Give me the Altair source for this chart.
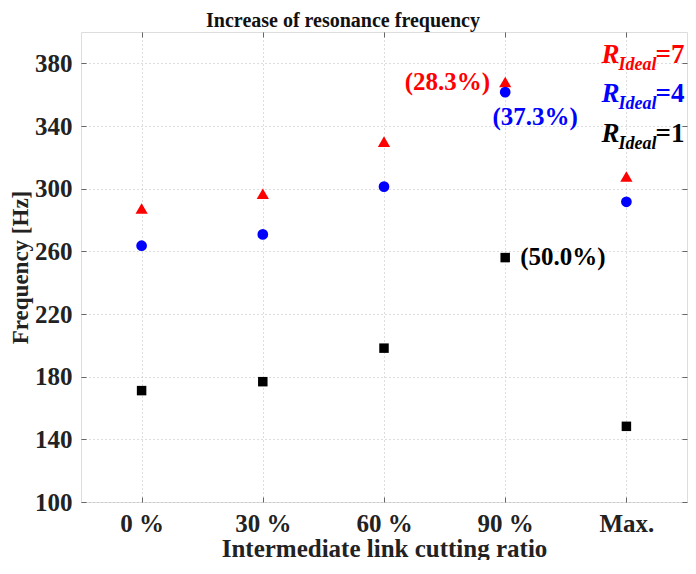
import altair as alt
import pandas as pd

categories = ["0 %", "30 %", "60 %", "90 %", "Max."]
r7 = [287.3, 296.8, 330.0, 368.1, 307.8]
r4 = [263.6, 270.8, 301.3, 361.6, 291.6]
r1 = [171.1, 176.8, 198.2, 256.0, 148.3]
y_ticks = [100, 140, 180, 220, 260, 300, 340, 380]
series_names = ["7", "4", "1"]
series_colors = ["#ff0000", "#0000ff", "#000000"]
series_shapes = ["triangle-up", "circle", "square"]
series_sizes = [150, 115, 90]

FONT = "Liberation Serif"
FRAME = "#666666"
TXT = "#222222"

rows = []
for name, vals in zip(series_names, [r7, r4, r1]):
    for c, v in zip(categories, vals):
        rows.append({"cat": c, "freq": v, "series": name})
df = pd.DataFrame(rows)

xscale = alt.Scale(type="point", domain=categories, padding=0.5)
yscale = alt.Scale(domain=[100, 400], nice=False, zero=False)

main_x = alt.X("cat:N", scale=xscale, sort=categories,
               axis=alt.Axis(title="Intermediate link cutting ratio", labelAngle=0,
                             ticks=True, tickSize=5, offset=-5, tickColor=FRAME,
                             domain=False,
                             grid=True, gridDash=[1, 3], gridColor="#bbbbbb",
                             labelFont=FONT, labelFontSize=25, labelFontWeight="bold",
                             labelColor=TXT, labelPadding=9,
                             titleFont=FONT, titleFontSize=25, titleFontWeight="bold",
                             titleColor=TXT, titlePadding=0))
main_y = alt.Y("freq:Q", scale=yscale,
               axis=alt.Axis(title="Frequency [Hz]", values=y_ticks,
                             ticks=True, tickSize=5, offset=-5, tickColor=FRAME,
                             domain=False,
                             grid=True, gridDash=[1, 3], gridColor="#bbbbbb",
                             labelFont=FONT, labelFontSize=25, labelFontWeight="bold",
                             labelColor=TXT, labelPadding=9,
                             titleFont=FONT, titleFontSize=23, titleFontWeight="bold",
                             titleColor=TXT, titlePadding=2))
plain_x = alt.X("cat:N", scale=xscale, sort=categories, axis=None)
plain_y = alt.Y("freq:Q", scale=yscale, axis=None)

layers = []
for i, (name, col, shp, sz) in enumerate(zip(series_names, series_colors,
                                             series_shapes, series_sizes)):
    layers.append(
        alt.Chart(df).transform_filter(alt.datum.series == name)
        .mark_point(shape=shp, filled=True, color=col, size=sz, opacity=1)
        .encode(x=main_x if i == 0 else plain_x, y=main_y if i == 0 else plain_y)
    )

# inward tick marks on the top and right borders
tick_layer = alt.Chart(df).mark_point(opacity=0).encode(
    x=alt.X("cat:N", scale=xscale, sort=categories,
            axis=alt.Axis(orient="top", title=None, labels=False, domain=False, grid=False,
                          ticks=True, tickSize=5, offset=-5, tickColor=FRAME)),
    y=alt.Y("freq:Q", scale=yscale,
            axis=alt.Axis(orient="right", title=None, labels=False, domain=False, grid=False,
                          values=y_ticks, ticks=True, tickSize=5, offset=-5,
                          tickColor=FRAME)),
)

# percentage annotations
ann = pd.DataFrame({
    "cat": ["90 %", "90 %", "90 %"],
    "freq": [368.3, 345.9, 256.6],
    "text": ["(28.3%)", "(37.3%)", "(50.0%)"],
    "color": ["#ff0000", "#0000ff", "#000000"],
})
ann_layers = []
for i, (al, dx) in enumerate([("right", -15), ("center", 30), ("left", 15)]):
    ann_layers.append(
        alt.Chart(ann.iloc[[i]]).mark_text(
            font=FONT, fontSize=25, fontWeight="bold", align=al, baseline="middle",
            dx=dx, color=ann["color"][i])
        .encode(x=plain_x, y=plain_y, text="text:N")
    )

# legend text R_Ideal = n
leg = pd.DataFrame({"cat": ["Max."] * 3, "freq": [380.0, 355.5, 330.0],
                    "num": ["=7", "=4", "=1"], "R": ["R"] * 3, "sub": ["Ideal"] * 3})
leg_layers = []
for i, col in enumerate(series_colors):
    d = leg.iloc[[i]]
    leg_layers.append(alt.Chart(d).mark_text(
        font=FONT, fontSize=27, fontWeight="bold", fontStyle="italic", align="left",
        baseline="alphabetic", dx=-25, color=col).encode(x=plain_x, y=plain_y, text="R:N"))
    leg_layers.append(alt.Chart(d).mark_text(
        font=FONT, fontSize=18, fontWeight="bold", fontStyle="italic", align="right",
        baseline="alphabetic", dx=30, dy=7, color=col).encode(x=plain_x, y=plain_y, text="sub:N"))
    leg_layers.append(alt.Chart(d).mark_text(
        font=FONT, fontSize=27, fontWeight="bold", align="right",
        baseline="alphabetic", dx=58, color=col).encode(x=plain_x, y=plain_y, text="num:N"))

chart = alt.layer(*layers, *ann_layers, *leg_layers, tick_layer).resolve_axis(
    x="independent", y="independent"
).properties(
    width=606, height=470,
    title=alt.TitleParams("Increase of resonance frequency", font=FONT, fontSize=20,
                          fontWeight="bold", color="#111111", offset=1, anchor="middle",
                          dx=-41),
    autosize=alt.AutoSizeParams(type="none"),
    padding={"left": 73, "top": 24, "right": 1, "bottom": 58},
).configure_view(stroke=FRAME, strokeWidth=1.5).configure(background="white")

chart.save("out.html", embed_options={"renderer": "svg", "actions": False})
